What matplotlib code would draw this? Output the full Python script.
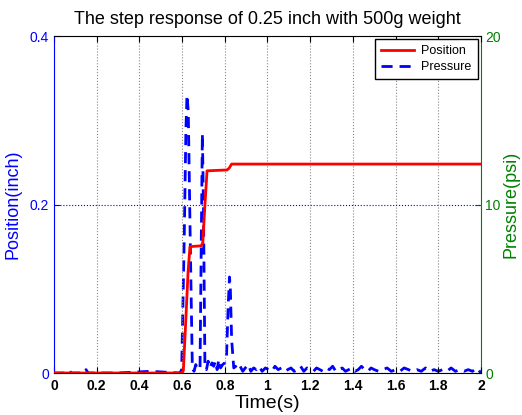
import numpy as np
import matplotlib
matplotlib.use("Agg")
import matplotlib.pyplot as plt

plt.rcParams['font.family'] = ['Liberation Sans', 'DejaVu Sans']

# position trace (inch)
pos_t = [0.0, 0.600, 0.606, 0.615, 0.628, 0.637, 0.690, 0.697, 0.707, 0.717,
         0.810, 0.820, 0.832, 0.840, 2.0]
pos_v = [0.0, 0.0, 0.003, 0.05, 0.12, 0.150, 0.151, 0.155, 0.20, 0.240,
         0.241, 0.243, 0.248, 0.248, 0.248]

# pressure trace (psi)
pres_t = [0.0, 0.05, 0.07, 0.08, 0.14, 0.15, 0.16, 0.30, 0.45, 0.59,
          0.598, 0.610, 0.618, 0.623, 0.629, 0.638, 0.648, 0.656,
          0.664, 0.674, 0.684, 0.690, 0.695, 0.700, 0.707, 0.714,
          0.722, 0.730, 0.740, 0.748, 0.756, 0.764, 0.772, 0.780, 0.790, 0.800,
          0.808, 0.816, 0.822, 0.826, 0.832, 0.842, 0.850,
          0.860, 0.872, 0.884, 0.896, 0.910, 0.922, 0.935, 0.948, 0.960,
          0.975, 0.990, 1.005, 1.020, 1.035, 1.050, 1.065, 1.080, 1.095,
          1.110, 1.125, 1.140, 1.155, 1.170, 1.185, 1.200, 1.215, 1.230,
          1.245, 1.260, 1.275, 1.290, 1.305, 1.320, 1.335, 1.350, 1.365,
          1.380, 1.395, 1.410, 1.425, 1.440, 1.455, 1.470, 1.485, 1.500,
          1.520, 1.540, 1.560, 1.580, 1.600, 1.620, 1.640, 1.660, 1.680,
          1.700, 1.720, 1.740, 1.760, 1.780, 1.800, 1.820, 1.840, 1.860,
          1.880, 1.900, 1.920, 1.940, 1.960, 1.980, 2.0]
pres_v = [0.0, 0.0, 0.2, 0.0, 0.0, 0.2, 0.0, 0.0, 0.1, 0.0,
          0.2, 8.0, 14.5, 16.5, 15.5, 8.0, 0.3, 0.1,
          0.5, 0.2, 0.3, 8.0, 14.2, 10.0, 0.3, 0.2,
          0.7, 0.3, 0.6, 0.4, 0.7, 0.2, 0.8, 0.3, 0.5, 0.6,
          1.0, 4.0, 5.7, 5.0, 2.0, 0.3, 0.4,
          0.2, 0.4, 0.1, 0.3, 0.5, 0.1, 0.3, 0.2, 0.4,
          0.1, 0.3, 0.2, 0.1, 0.4, 0.2, 0.3, 0.1, 0.2,
          0.3, 0.1, 0.2, 0.4, 0.1, 0.3, 0.2, 0.1, 0.3,
          0.2, 0.1, 0.3, 0.2, 0.4, 0.1, 0.2, 0.3, 0.1,
          0.2, 0.3, 0.1, 0.2, 0.4, 0.2, 0.1, 0.3, 0.2,
          0.1, 0.2, 0.3, 0.1, 0.2, 0.1, 0.3, 0.2, 0.1,
          0.2, 0.1, 0.3, 0.1, 0.2, 0.1, 0.2, 0.1, 0.3,
          0.1, 0.2, 0.1, 0.2, 0.1, 0.3, 0.0]

x_ticks = [0, 0.2, 0.4, 0.6, 0.8, 1, 1.2, 1.4, 1.6, 1.8, 2]
x_labels = ['0', '0.2', '0.4', '0.6', '0.8', '1', '1.2', '1.4', '1.6', '1.8', '2']

blue = '#0000ff'
green = '#008000'

fig = plt.figure(figsize=(5.22, 4.15), dpi=100)
ax = fig.add_axes([0.1034, 0.1012, 0.8181, 0.8120])
ax2 = ax.twinx()

l1, = ax.plot(pos_t, pos_v, color='red', lw=2, label='Position', zorder=3)
l2, = ax2.plot(pres_t, pres_v, color=blue, lw=2, ls='--', dashes=(4, 2.5), label='Pressure')
ax.set_zorder(ax2.get_zorder() + 1)
ax.patch.set_visible(False)

ax.set_xlim(0, 2)
ax.set_ylim(0, 0.4)
ax2.set_ylim(0, 20)
ax.set_xticks(x_ticks)
ax.set_xticklabels(x_labels, fontsize=10, fontweight='bold')
ax.set_yticks([0, 0.2, 0.4])
ax.set_yticklabels(['0', '0.2', '0.4'])
ax2.set_yticks([0, 10, 20])

ax.tick_params(axis='x', direction='in', top=True, length=4, colors='black', pad=4)
ax.tick_params(axis='y', direction='in', length=4, colors=blue, labelsize=10)
ax2.tick_params(axis='y', direction='in', length=4, colors=green, labelsize=10, pad=3)

for s in ['top', 'bottom']:
    ax.spines[s].set_color('black')
ax.spines['left'].set_color(blue)
ax.spines['right'].set_visible(False)
ax2.spines['right'].set_color(green)
ax2.spines['left'].set_visible(False)
ax2.spines['top'].set_visible(False)
ax2.spines['bottom'].set_visible(False)

ax.grid(axis='x', ls=':', color='#888888', lw=0.8)
ax.grid(axis='y', ls=':', color=blue, lw=0.8)

ax.set_title('The step response of 0.25 inch with 500g weight', fontsize=13, pad=9)
ax.set_xlabel('Time(s)', fontsize=14, labelpad=2)
ax.set_ylabel('Position(inch)', fontsize=13, color=blue, labelpad=6)
ax2.set_ylabel('Pressure(psi)', fontsize=13, color=green, labelpad=1)

leg = ax.legend([l1, l2], ['Position', 'Pressure'], loc='upper right', fontsize=9,
                fancybox=False, framealpha=1, edgecolor='black', borderaxespad=0.25,
                handlelength=2.6, borderpad=0.5, labelspacing=0.3, handletextpad=0.6)
leg.get_frame().set_linewidth(1)

fig.savefig('out.png', dpi=100)
